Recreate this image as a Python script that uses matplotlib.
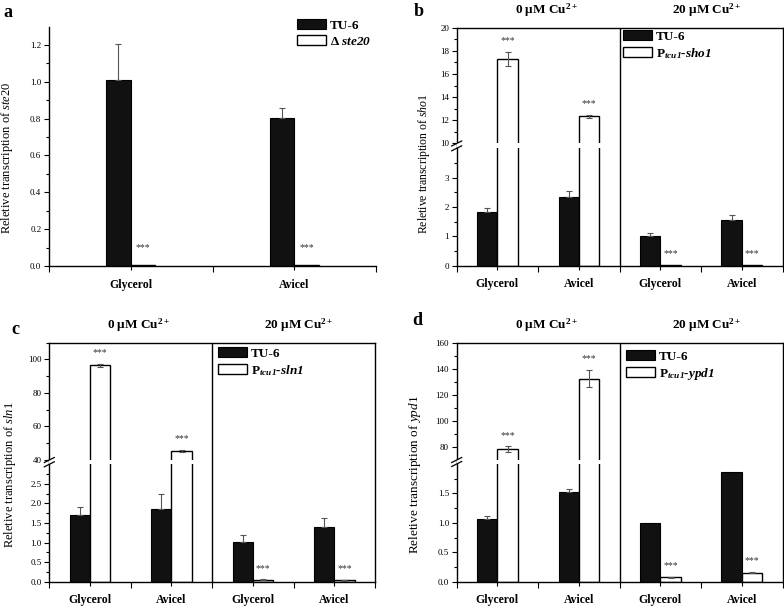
import numpy as np
import matplotlib
matplotlib.use("Agg")
import matplotlib.pyplot as plt
import matplotlib.patches as mpatches
from matplotlib.ticker import FixedLocator, FixedFormatter

plt.rcParams.update({
    "font.family": "Liberation Serif",
    "mathtext.fontset": "custom",
    "mathtext.rm": "Liberation Serif",
    "mathtext.it": "Liberation Serif:italic",
    "mathtext.bf": "Liberation Serif:bold",
    "mathtext.bfit": "Liberation Serif:bold:italic",
    "axes.linewidth": 1.0,
})

# ---- data -------------------------------------------------------------
a_categories = ["Glycerol", "Avicel"]
a_tu6 = [1.01, 0.805]
a_tu6_err = [0.195, 0.05]
a_mut = [0.005, 0.003]
a_mut_err = [0.0, 0.0]

cu_categories = ["Glycerol", "Avicel", "Glycerol", "Avicel"]
cu_headers = ["0 μM Cu$^{\\mathbf{2+}}$", "20 μM Cu$^{\\mathbf{2+}}$"]

b_tu6 = [1.84, 2.35, 1.02, 1.55]
b_tu6_err = [0.11, 0.18, 0.08, 0.17]
b_ptcu = [17.3, 12.35, 0.04, 0.03]
b_ptcu_err = [0.6, 0.15, 0.0, 0.0]

c_tu6 = [1.70, 1.87, 1.01, 1.39]
c_tu6_err = [0.20, 0.36, 0.19, 0.23]
c_ptcu = [96.4, 45.6, 0.05, 0.04]
c_ptcu_err = [0.8, 0.6, 0.01, 0.01]

d_tu6 = [1.06, 1.53, 1.00, 1.86]
d_tu6_err = [0.06, 0.04, 0.0, 0.0]
d_ptcu = [78.5, 132.5, 0.075, 0.155]
d_ptcu_err = [2.0, 6.5, 0.01, 0.01]

BLACK = "#111111"
ERR = "#555555"

W, H = 784, 607
fig = plt.figure(figsize=(W / 100, H / 100), dpi=100)


def px_axes(left, top, right, bottom):
    """axes from pixel box (top-left origin)."""
    return fig.add_axes([left / W, 1 - bottom / H, (right - left) / W, (bottom - top) / H])


def draw_bars(ax, tu6, tu6_err, mut, mut_err, width, star_off):
    x = np.arange(1, len(tu6) + 1)
    ax.bar(x - width / 2, tu6, width, color=BLACK, edgecolor="k", linewidth=0.8, zorder=2)
    ax.bar(x + width / 2, mut, width, color="white", edgecolor="k", linewidth=1.0, zorder=2)
    tu6 = np.asarray(tu6); tu6_err = np.asarray(tu6_err)
    mut = np.asarray(mut); mut_err = np.asarray(mut_err)
    m = tu6_err > 0
    ax.errorbar(x[m] - width / 2, tu6[m], yerr=[np.zeros(m.sum()), tu6_err[m]], fmt="none",
                ecolor=ERR, elinewidth=0.8, capsize=2.5, capthick=0.8, zorder=2.5)
    m = mut_err > 0
    ax.errorbar(x[m] + width / 2, mut[m], yerr=mut_err[m], fmt="none",
                ecolor=ERR, elinewidth=0.8, capsize=2.5, capthick=0.8, zorder=2.5)
    for xi, v, e in zip(x, mut, mut_err):
        ax.annotate("***", xy=(xi + width / 2, v + e), xytext=(0, star_off),
                    textcoords="offset points", ha="center", va="center",
                    fontsize=7, color="#333333")


def style_x(ax, labels):
    n = len(labels)
    ax.set_xlim(0.5, n + 0.5)
    ax.set_xticks(np.arange(1, n + 1))
    ax.set_xticklabels(labels, fontsize=8.5, fontweight="bold")
    ax.xaxis.set_minor_locator(FixedLocator(np.arange(0.5, n + 1, 1.0)))
    ax.tick_params(axis="x", which="major", direction="out", length=3, width=0.8, pad=6)
    ax.tick_params(axis="x", which="minor", direction="out", length=4, width=0.8)
    ax.tick_params(axis="y", which="major", direction="out", length=3.5, width=0.8, labelsize=6.5, pad=2)
    ax.tick_params(axis="y", which="minor", direction="out", length=2, width=0.8)


def make_broken(ax, lo_top, hi_bot, hi_top, frac_lo, frac_gap):
    span_hi = 1 - frac_lo - frac_gap

    def fwd(y):
        y = np.asarray(y, dtype=float)
        return np.where(y <= lo_top, y / lo_top * frac_lo,
                        np.where(y <= hi_bot,
                                 frac_lo + (y - lo_top) / (hi_bot - lo_top) * frac_gap,
                                 frac_lo + frac_gap + (y - hi_bot) / (hi_top - hi_bot) * span_hi))

    def inv(v):
        v = np.asarray(v, dtype=float)
        return np.where(v <= frac_lo, v / frac_lo * lo_top,
                        np.where(v <= frac_lo + frac_gap,
                                 lo_top + (v - frac_lo) / frac_gap * (hi_bot - lo_top),
                                 hi_bot + (v - frac_lo - frac_gap) / span_hi * (hi_top - hi_bot)))

    ax.set_yscale("function", functions=(fwd, inv))
    ax.set_ylim(0, hi_top)
    # white gap across bars and the left spine
    ax.axhspan(lo_top, hi_bot, color="white", linewidth=0, zorder=3)
    ax.spines["right"].set_zorder(4)
    ax.axvline(2.5, color="k", linewidth=1.0, zorder=4)
    dx, dy = 5.0 / 326, 2.5 / 238
    for yy in (frac_lo, frac_lo + frac_gap):
        ax.plot([-dx, dx], [yy - dy, yy + dy], transform=ax.transAxes, color="k",
                linewidth=0.9, clip_on=False, zorder=5)


def set_yticks(ax, major, minor, labels):
    ax.yaxis.set_major_locator(FixedLocator(major))
    ax.yaxis.set_major_formatter(FixedFormatter(labels))
    ax.yaxis.set_minor_locator(FixedLocator(minor))


def headers(ax):
    for xh, txt in zip([1.6, 3.57], cu_headers):
        ax.annotate(txt, xy=(xh, 1.0), xycoords=("data", "axes fraction"),
                    xytext=(0, 10.5), textcoords="offset points", ha="center",
                    va="baseline", fontsize=9.5, fontweight="bold", annotation_clip=False)


def legend(ax, label2, fx, fy):
    h1 = mpatches.Patch(facecolor=BLACK, edgecolor="k", linewidth=0.8)
    h2 = mpatches.Patch(facecolor="white", edgecolor="k", linewidth=1.0)
    leg = ax.legend([h1, h2], ["TU-6", label2], loc="upper left",
                    bbox_to_anchor=(fx / W, 1 - fy / H), bbox_transform=fig.transFigure,
                    frameon=False, prop={"size": 9.5, "weight": "bold"},
                    handlelength=2.2, handleheight=0.8, handletextpad=0.3,
                    labelspacing=0.25, borderpad=0, borderaxespad=0)
    leg.get_texts()[1].set_style("italic")


# ---- panel a ------------------------------------------------------------
ax_a = px_axes(49, 26.5, 376, 266)
draw_bars(ax_a, a_tu6, a_tu6_err, a_mut, a_mut_err, 0.15, 12.5)
style_x(ax_a, a_categories)
ax_a.set_ylim(0, 1.3)
set_yticks(ax_a, np.arange(0, 1.21, 0.2), np.arange(0.1, 1.3, 0.2),
           [f"{v:.1f}" for v in np.arange(0, 1.21, 0.2)])
ax_a.spines["top"].set_visible(False)
ax_a.spines["right"].set_visible(False)
ax_a.set_ylabel("Reletive transcription of $\\mathit{ste20}$", fontsize=9)
ax_a.yaxis.set_label_coords(-0.103, 0.45)
legend(ax_a, "$\\mathbf{\\Delta}$ ste20", 297, 19)

# ---- panel b ------------------------------------------------------------
ax_b = px_axes(456.7, 27.7, 782.5, 265.7)
make_broken(ax_b, 4.0, 10.0, 20.0, 0.4933, 0.0202)
draw_bars(ax_b, b_tu6, b_tu6_err, b_ptcu, b_ptcu_err, 0.25, 8)
style_x(ax_b, cu_categories)
set_yticks(ax_b, [0, 1, 2, 3, 10, 12, 14, 16, 18, 20],
           [0.5, 1.5, 2.5, 3.5, 11, 13, 15, 17, 19],
           ["0", "1", "2", "3", "10", "12", "14", "16", "18", "20"])
ax_b.set_ylabel("Reletive transcription of $\\mathit{sho1}$", fontsize=8.5)
ax_b.yaxis.set_label_coords(-0.076, 0.43)
headers(ax_b)
legend(ax_b, "$\\mathbf{P}_{\\mathbfit{tcu1}}$-sho1", 622.7, 30)

# ---- panel c ------------------------------------------------------------
ax_c = px_axes(49.3, 342.7, 375, 581.7)
make_broken(ax_c, 3.0, 40.0, 110.0, 0.4912, 0.018)
draw_bars(ax_c, c_tu6, c_tu6_err, c_ptcu, c_ptcu_err, 0.25, 8)
style_x(ax_c, cu_categories)
c_major = [0, 0.5, 1.0, 1.5, 2.0, 2.5, 40, 60, 80, 100]
set_yticks(ax_c, c_major, [0.25, 0.75, 1.25, 1.75, 2.25, 2.75, 50, 70, 90, 110],
           [f"{v:.1f}" if v < 10 else f"{v:d}" for v in c_major])
ax_c.set_ylabel("Reletive transcription of $\\mathit{sln1}$", fontsize=9)
ax_c.yaxis.set_label_coords(-0.097, 0.45)
headers(ax_c)
legend(ax_c, "$\\mathbf{P}_{\\mathbfit{tcu1}}$-sln1", 218, 347)

# ---- panel d ------------------------------------------------------------
ax_d = px_axes(456.7, 342.7, 782.5, 581.7)
make_broken(ax_d, 2.0, 70.0, 160.0, 0.4925, 0.0167)
draw_bars(ax_d, d_tu6, d_tu6_err, d_ptcu, d_ptcu_err, 0.25, 8)
style_x(ax_d, cu_categories)
d_major = [0, 0.5, 1.0, 1.5, 80, 100, 120, 140, 160]
set_yticks(ax_d, d_major, [0.25, 0.75, 1.25, 1.75, 90, 110, 130, 150],
           [f"{v:.1f}" if v < 10 else f"{v:d}" for v in d_major])
ax_d.set_ylabel("Reletive transcription of $\\mathit{ypd1}$", fontsize=9.5)
ax_d.yaxis.set_label_coords(-0.103, 0.45)
headers(ax_d)
legend(ax_d, "$\\mathbf{P}_{\\mathbfit{tcu1}}$-ypd1", 626, 350)

# ---- panel letters --------------------------------------------------------
for lbl, px, py in [("a", 3, 4), ("b", 414, 3), ("c", 11, 321), ("d", 412, 312)]:
    fig.text(px / W, 1 - py / H, lbl, fontsize=13, fontweight="bold", ha="left", va="top")

fig.savefig("out.png", dpi=100)
